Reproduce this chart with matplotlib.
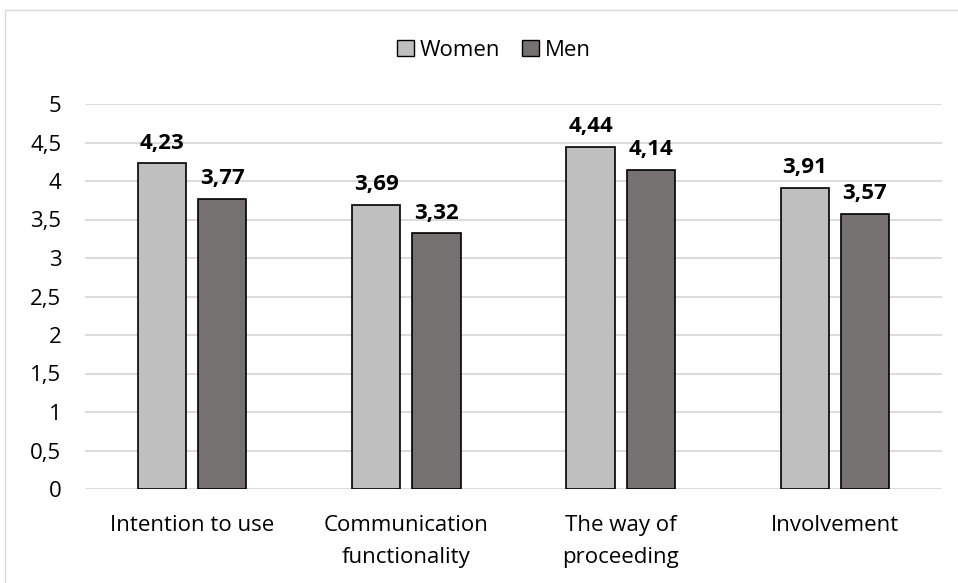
import matplotlib
matplotlib.use("Agg")
import matplotlib.pyplot as plt
import numpy as np
from matplotlib.patches import Rectangle

categories = ["Intention to use", "Communication\nfunctionality", "The way of\nproceeding", "Involvement"]
women = [4.23, 3.69, 4.44, 3.91]
men = [3.77, 3.32, 4.14, 3.57]
yticks = [0, 0.5, 1, 1.5, 2, 2.5, 3, 3.5, 4, 4.5, 5]

plt.rcParams['font.family'] = ['Open Sans', 'DejaVu Sans']

fig = plt.figure(figsize=(9.58, 5.83), dpi=100)
ax = fig.add_axes([85/958, 1 - 489/583, (942-85)/958, (489-104)/583])

x = np.arange(len(categories))
w = 0.225
gap = 0.056
c_w = "#BFBFBF"
c_m = "#767171"
b1 = ax.bar(x - (w+gap)/2, women, w, color=c_w, edgecolor="black", linewidth=1.2, label="Women", zorder=3)
b2 = ax.bar(x + (w+gap)/2, men, w, color=c_m, edgecolor="black", linewidth=1.2, label="Men", zorder=3)

def fmt(v):
    return f"{v:.2f}".replace(".", ",")

for bars, vals in ((b1, women), (b2, men)):
    for b, v in zip(bars, vals):
        ax.annotate(fmt(v), (b.get_x() + b.get_width()/2, v), xytext=(0, 7),
                    textcoords="offset points", ha="center", va="bottom",
                    fontsize=16, fontweight="bold", color="black")

ax.set_xlim(-0.5, len(categories) - 0.5)
ax.set_ylim(0, 5)
ax.set_yticks(yticks)
ax.set_yticklabels([("%g" % t).replace(".", ",") for t in yticks], fontsize=16)
ax.set_xticks(x)
ax.set_xticklabels(categories, fontsize=16, linespacing=1.65)
ax.yaxis.grid(True, color="#D9D9D9", linewidth=1.3, zorder=0)
ax.set_axisbelow(True)
for s in ax.spines.values():
    s.set_visible(False)
ax.tick_params(axis="both", length=0, colors="black")
ax.tick_params(axis="y", pad=17)
ax.tick_params(axis="x", pad=19)

leg = ax.legend(loc="center", bbox_to_anchor=((494 - 85) / (942 - 85), 1 + (104 - 50) / (489 - 104)),
                ncol=2, frameon=False,
                fontsize=16, handlelength=0.75, handleheight=0.75, handletextpad=0.25, columnspacing=1.0)
for h in leg.legend_handles:
    h.set_linewidth(1.0)

# outer chart border
fig.patches.append(Rectangle((5/958, -0.01), 1.0, 1 - 10/583 + 0.01, transform=fig.transFigure,
                             fill=False, edgecolor="#D9D9D9", linewidth=1.0))

fig.savefig("out.png", dpi=100)
